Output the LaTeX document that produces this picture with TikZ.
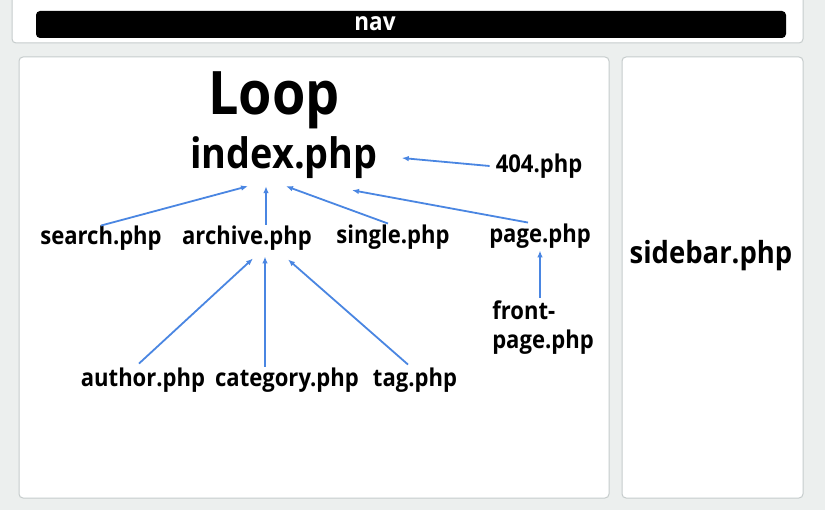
\documentclass[tikz,border=0pt]{standalone}
\usepackage{fontspec}
\setmainfont{Open Sans}[FakeStretch=0.9]
\usepackage{tikz}
\usetikzlibrary{arrows.meta, positioning}
\definecolor{pagegray}{RGB}{236, 239, 238}
\definecolor{boxline}{RGB}{198, 204, 204}
\definecolor{linkblue}{RGB}{74, 134, 226}

\begin{document}
\begin{tikzpicture}[x=1pt, y=-1pt,
    panel/.style={draw=boxline, fill=white, line width=1pt, rounded corners=4pt},
    navbar/.style={fill=black, rounded corners=4pt},
    file/.style={inner sep=0pt, font=\fontsize{24.5}{29}\selectfont\bfseries},
    title/.style={inner sep=0pt, font=\fontsize{60}{62}\selectfont\bfseries},
    mainfile/.style={inner sep=0pt, font=\fontsize{42}{44}\selectfont\bfseries},
    link/.style={draw=linkblue, line width=1.8pt, -{Latex[length=7pt, width=5.5pt]}}]

    % Page
    \useasboundingbox (0,0) rectangle (825,510);
    \clip (0,0) rectangle (825,510);
    \fill[pagegray] (0,0) rectangle (825,510);
    \draw[panel] (12,-10) rectangle (803,43);
    \fill[navbar] (36,11) rectangle (786,38);
    \draw[panel] (19,57) rectangle (609,498);
    \draw[panel] (622,57) rectangle (803,498);

    % Nodes
    \node[inner sep=0pt, text=white, font=\fontsize{25}{27}\selectfont\bfseries] (nav) at (375,24) {nav};
    \node[title] (loop) at (274,100) {Loop};
    \node[mainfile] (index) at (284,158) {index.php};
    \node[file] (notfound) at (539,166) {404.php};
    \node[file] (search) at (101,238) {search.php};
    \node[file] (archive) at (247,238) {archive.php};
    \node[file] (single) at (393,237) {single.php};
    \node[file] (page) at (540,236) {page.php};
    \node[file, align=left] (front) at (543,328) {front-\\page.php};
    \node[file] (author) at (143,380) {author.php};
    \node[file] (category) at (287,380) {category.php};
    \node[file] (tag) at (415,380) {tag.php};
    \node[inner sep=0pt, font=\fontsize{30.5}{32}\selectfont\bfseries] (sidebar) at (711,256) {sidebar.php};

    % Flows
    \draw[link] (search.north) -- ([xshift=-36pt, yshift=-7pt]index.south);
    \draw[link] ([xshift=19pt, yshift=1pt]archive.north) -- ([xshift=-18pt, yshift=-7pt]index.south);
    \draw[link] ([xshift=-5pt, yshift=1pt]single.north) -- ([xshift=2pt, yshift=-7pt]index.south);
    \draw[link] ([xshift=-12pt, yshift=1pt]page.north) -- ([xshift=68pt, yshift=-11pt]index.south);
    \draw[link] ([xshift=-6pt]notfound.west) -- ([xshift=24pt]index.east);
    \draw[link] ([xshift=-4pt, yshift=4pt]author.north) -- ([xshift=6pt, yshift=-8pt]archive.south);
    \draw[link] ([xshift=-22pt, yshift=1pt]category.north) -- ([xshift=18pt, yshift=-6pt]archive.south);
    \draw[link] ([xshift=-7pt, yshift=3pt]tag.north) -- ([xshift=41pt, yshift=-9pt]archive.south);
    \draw[link] ([xshift=-3pt, yshift=3pt]front.north) -- ([yshift=-2pt]page.south);
\end{tikzpicture}
\end{document}
